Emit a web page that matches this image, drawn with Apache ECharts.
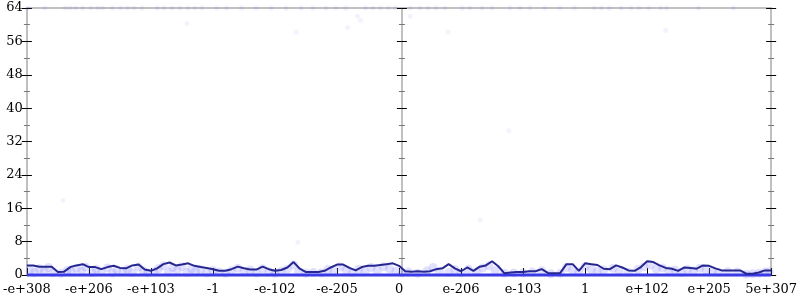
<!DOCTYPE html>
<html><head><meta charset="utf-8">
<script src="https://cdn.jsdelivr.net/npm/echarts@6/dist/echarts.min.js"></script>
<style>html,body{margin:0;padding:0;background:#fff}#c{width:800px;height:300px}</style>
</head><body><div id="c"></div>
<script>
// tick labels along x (positions 0..12)
var xTickLabels = ['-e+308','-e+206','-e+103','-1','-e-102','-e-205','0','e-206','e-103','1','e+102','e+205','5e+307'];
// running line, sampled every 0.1 along x from 0 to 12
var lineValues = [
 2.3,2.3,2.0,2.0,2.0,0.7,0.8,1.9,2.3,2.6,
 1.9,1.9,1.4,1.9,2.2,1.7,1.6,2.3,2.5,1.3,
 1.0,1.6,2.6,3.0,2.3,2.5,2.8,2.2,1.9,1.7,
 1.4,1.0,1.0,1.4,2.0,1.6,1.3,1.3,2.0,1.4,
 1.0,1.2,1.8,3.1,1.5,0.7,0.7,0.7,1.0,1.8,
 2.5,2.5,1.7,1.1,1.9,2.2,2.2,2.4,2.6,2.8,
 2.2,0.9,0.8,0.9,0.8,0.9,1.4,1.6,2.6,1.6,
 0.9,1.8,1.0,2.0,2.3,3.3,2.1,0.4,0.6,0.7,
 0.7,0.9,0.9,1.4,0.5,0.4,0.5,2.6,2.6,1.0,
 2.8,2.6,2.4,1.5,1.4,2.3,1.8,1.1,1.0,1.9,
 3.3,3.1,2.3,1.7,1.5,1.0,1.8,1.7,1.5,2.3,
 2.2,1.6,1.1,1.1,1.1,1.1,0.3,0.3,0.6,1.1,
 1.1];
var lineStep = 0.1;
// light scatter points in the low band
var bandX = [0.05,0.12,0.2,0.28,0.35,0.42,0.55,0.65,0.72,0.8,0.88,0.95,1.05,1.12,1.2,1.3,1.38,1.45,1.55,1.62,1.7,1.8,1.88,1.95,2.05,2.12,2.2,2.28,2.35,2.42,2.5,2.58,2.65,2.72,2.8,2.9,3.0,3.1,3.2,3.3,3.4,3.5,3.6,3.7,3.8,3.9,4.0,4.1,4.2,4.3,4.38,4.5,4.62,4.75,4.85,4.95,5.05,5.15,5.25,5.35,5.45,5.55,5.65,5.75,5.85,5.95,6.05,6.15,6.3,6.45,6.55,6.65,6.8,6.9,7.0,7.12,7.25,7.35,7.45,7.55,7.7,7.85,8.0,8.15,8.3,8.45,8.6,8.7,8.8,8.9,9.0,9.1,9.2,9.3,9.45,9.55,9.7,9.85,9.95,10.05,10.15,10.25,10.35,10.45,10.55,10.65,10.75,10.85,10.95,11.05,11.15,11.3,11.45,11.6,11.7,11.8,11.9,11.97];
var bandY = [1.2,0.6,1.5,0.9,1.8,0.5,0.4,1.1,0.7,1.6,0.9,1.9,0.6,1.4,0.8,1.7,0.5,1.2,0.9,1.4,0.6,1.9,1.0,0.5,0.8,1.5,2.2,0.7,1.8,1.1,2.0,0.6,1.5,0.9,1.3,0.5,1.1,0.7,0.4,1.0,1.6,0.8,1.2,0.5,1.5,0.7,0.4,0.9,1.4,2.4,0.8,0.4,0.6,0.5,1.3,0.8,1.9,1.2,0.6,1.4,0.8,1.8,1.1,2.0,1.4,0.9,0.5,0.7,0.4,1.0,1.8,0.8,0.6,1.3,0.5,1.4,0.8,1.7,2.2,1.0,0.4,0.5,0.5,0.7,1.0,0.3,0.4,1.8,1.2,0.7,2.0,1.3,0.9,1.2,1.6,0.8,0.6,1.3,2.0,2.4,1.4,1.7,1.0,1.2,0.6,1.3,1.0,1.6,1.2,0.9,0.6,0.8,0.7,0.2,0.3,0.4,0.7,0.8];
// points sitting at the top edge (value 64)
var topX = [0.02,0.29,0.62,0.70,0.79,0.90,1.03,1.14,1.22,1.38,1.51,1.62,1.73,1.86,2.10,2.21,2.34,2.47,2.60,2.71,2.82,3.06,3.22,3.46,3.70,3.94,4.18,4.42,4.61,4.82,4.98,5.14,5.46,5.58,5.70,5.83,5.94,6.18,6.34,6.47,6.60,6.74,7.02,7.14,7.34,7.50,7.79,7.95,8.11,8.35,8.59,8.83,9.15,9.26,9.39,9.58,9.74,9.87,10.03,10.22,10.31,10.83,11.39];
var topValue = 64;
// scattered outliers
var outX = [0.58,4.37,7.77,7.31,2.58,5.17,5.33,5.38,6.18,6.79,10.3,4.34];
var outY = [17.9,7.8,34.6,13.1,60.3,59.3,62.0,61.0,62.0,58.2,58.6,58.2];
// zero band
var zeroX = [0,12];
var zeroValue = 0;

var lineData = lineValues.map(function(v,i){return [+(i*lineStep).toFixed(2), v];});
var bandData = bandX.map(function(x,i){return [x, bandY[i]];});
var topData = topX.map(function(x){return [x, topValue];});
var outData = outX.map(function(x,i){return [x, outY[i]];});
var zeroData = zeroX.map(function(x){return [x, zeroValue];});

var font = 'DejaVu Serif';
function yAx(pos, offset, inside, labels, line){
  return {type:'value', min:0, max:64, interval:8, position:pos, offset:offset,
    axisLine:{show:line, onZero:false, lineStyle:{color:'#c0c0c0', width:2}},
    axisTick:{show:true, inside:inside, length:5, lineStyle:{color:'#000', width:1}},
    minorTick:{show:true, splitNumber:2, length:3, lineStyle:{color:'#777', width:1}},
    axisLabel:{show:labels, color:'#000', fontFamily:font, fontSize:13, margin:4},
    splitLine:{show:false}};
}
var chart = echarts.init(document.getElementById('c'), null, {renderer:'canvas'});
chart.setOption({
  animation:false,
  grid:{left:24, right:27, top:8, bottom:25, containLabel:false},
  xAxis:[
    {type:'value', min:0, max:12, interval:1, position:'bottom',
     axisLine:{show:true, onZero:false, lineStyle:{color:'#c0c0c0', width:2}},
     axisTick:{show:true, inside:true, length:7, lineStyle:{color:'#000', width:1}},
     axisLabel:{color:'#000', fontFamily:font, fontSize:13, margin:8,
       formatter:function(v){return xTickLabels[Math.round(v)];}},
     splitLine:{show:false}},
    {type:'value', min:0, max:12, position:'top',
     axisLine:{show:true, onZero:false, lineStyle:{color:'#c0c0c0', width:2}},
     axisTick:{show:false}, axisLabel:{show:false}, splitLine:{show:false}}
  ],
  yAxis:[
    yAx('left',0,false,true,true), yAx('left',0,true,false,false),
    yAx('left',-375,false,false,true), yAx('left',-375,true,false,false),
    yAx('right',0,false,false,true), yAx('right',0,true,false,false)
  ],
  series:[
    {type:'scatter', data:topData, symbolSize:5, itemStyle:{color:'rgba(110,110,235,0.12)'}, clip:false, z:2},
    {type:'scatter', data:outData, symbolSize:5, itemStyle:{color:'rgba(110,110,235,0.1)'}, z:2},
    {type:'scatter', data:bandData, symbolSize:9, itemStyle:{color:'rgba(120,120,250,0.28)'}, z:2},
    {type:'line', data:zeroData, symbol:'none', lineStyle:{color:'#3a3ae6', width:3}, clip:false, z:3},
    {type:'line', data:lineData, symbol:'none', lineStyle:{color:'#262690', width:2}, z:4}
  ]
});
</script></body></html>
